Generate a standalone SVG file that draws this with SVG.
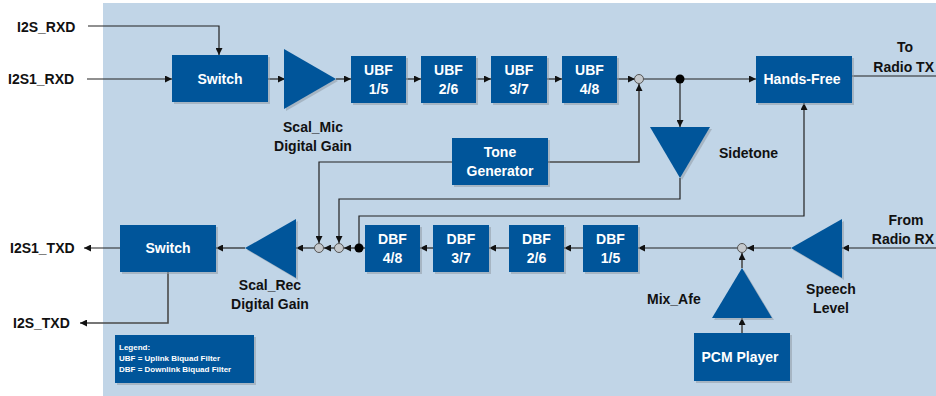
<svg xmlns="http://www.w3.org/2000/svg" width="936" height="396" viewBox="0 0 936 396">
<defs>
<style>
.bg{fill:#c1d5e7}
.box{fill:#00559a}
.sh{fill:#8f9aa5;opacity:.55}
.bt{font-family:"Liberation Sans",Arial,sans-serif;font-weight:bold;font-size:14px;fill:#fff;text-anchor:middle}
.lb{font-family:"Liberation Sans",Arial,sans-serif;font-weight:bold;font-size:14px;fill:#111}
.lg{font-family:"Liberation Sans",Arial,sans-serif;font-weight:bold;font-size:8px;fill:#fff}
.c{fill:none;stroke:#222;stroke-width:1.2}
.g{fill:none;stroke:#4a4a4a;stroke-width:1.6}
.sum{fill:#c4c8cc;stroke:#555;stroke-width:1}
.dot{fill:#000}
</style>
<marker id="a" viewBox="0 0 8 8" refX="8" refY="4" markerWidth="7" markerHeight="7" markerUnits="userSpaceOnUse" orient="auto">
<path d="M0,0 L8,4 L0,8 z" fill="#111"/>
</marker>
</defs>
<rect class="bg" x="103" y="3" width="833" height="393"/>

<g id="connectors">
<path class="c" d="M88,26 H219 V55" marker-end="url(#a)"/>
<path class="c" d="M87,79 H172" marker-end="url(#a)"/>
<path class="c" d="M268,79 H285" marker-end="url(#a)"/>
<path class="c" d="M336,79 H351" marker-end="url(#a)"/>
<path class="c" d="M406,79 H421" marker-end="url(#a)"/>
<path class="c" d="M476,79 H491" marker-end="url(#a)"/>
<path class="c" d="M547,79 H562" marker-end="url(#a)"/>
<path class="c" d="M617,79 H635" marker-end="url(#a)"/>
<path class="c" d="M643,79 H756" marker-end="url(#a)"/>
<path class="c" d="M680,79 V127" marker-end="url(#a)"/>
<path class="c" d="M852,76 H936"/>
<path class="c" d="M680,178 V199 H339 V243" marker-end="url(#a)"/>
<path class="g" d="M548,162 H639 V84" marker-end="url(#a)"/>
<path class="c" d="M452,162 H319 V243" marker-end="url(#a)"/>
<path class="c" d="M359,248 V216 H804 V103" marker-end="url(#a)"/>
<path class="c" d="M936,248 H842" marker-end="url(#a)"/>
<path class="c" d="M791,248 H747" marker-end="url(#a)"/>
<path class="c" d="M738,248 H638" marker-end="url(#a)"/>
<path class="c" d="M583,248 H564" marker-end="url(#a)"/>
<path class="c" d="M509,248 H489" marker-end="url(#a)"/>
<path class="c" d="M433,248 H420" marker-end="url(#a)"/>
<path class="c" d="M365,248 H359"/>
<path class="c" d="M355,248 H344" marker-end="url(#a)"/>
<path class="c" d="M335,248 H324" marker-end="url(#a)"/>
<path class="c" d="M315,248 H296" marker-end="url(#a)"/>
<path class="c" d="M245,248 H216" marker-end="url(#a)"/>
<path class="c" d="M120,248 H84" marker-end="url(#a)"/>
<path class="g" d="M168,272 V323 H80" marker-end="url(#a)"/>
<path class="g" d="M742,268 V253" marker-end="url(#a)"/>
<path class="g" d="M742,333 V318" marker-end="url(#a)"/>
</g>

<g id="sum_ul"><circle class="sum" cx="639" cy="79" r="4.5"/></g>
<g id="dot_ul"><circle class="dot" cx="680" cy="79" r="4.5"/></g>
<g id="sum_dl1"><circle class="sum" cx="319" cy="248" r="4.5"/></g>
<g id="sum_dl2"><circle class="sum" cx="339" cy="248" r="4.5"/></g>
<g id="dot_dl"><circle class="dot" cx="359" cy="248" r="4.5"/></g>
<g id="sum_dl3"><circle class="sum" cx="742" cy="248" r="4.5"/></g>

<g id="switch_top">
<rect class="sh" x="174" y="57" width="96" height="47"/>
<rect class="box" x="172" y="55" width="96" height="47"/>
<text class="bt" x="220" y="84">Switch</text>
</g>
<g id="scal_mic">
<polygon class="sh" points="286,51 338,81 286,111"/>
<polygon class="box" points="284,49 336,79 284,109"/>
<text class="lb" x="313" y="132" text-anchor="middle">Scal_Mic</text>
<text class="lb" x="313" y="151" text-anchor="middle">Digital Gain</text>
</g>
<g id="ubf1">
<rect class="sh" x="353" y="58" width="55" height="47"/>
<rect class="box" x="351" y="56" width="55" height="47"/>
<text class="bt" x="378.5" y="75">UBF</text><text class="bt" x="378.5" y="94">1/5</text>
</g>
<g id="ubf2">
<rect class="sh" x="423" y="58" width="55" height="47"/>
<rect class="box" x="421" y="56" width="55" height="47"/>
<text class="bt" x="448.5" y="75">UBF</text><text class="bt" x="448.5" y="94">2/6</text>
</g>
<g id="ubf3">
<rect class="sh" x="493" y="58" width="56" height="47"/>
<rect class="box" x="491" y="56" width="56" height="47"/>
<text class="bt" x="519" y="75">UBF</text><text class="bt" x="519" y="94">3/7</text>
</g>
<g id="ubf4">
<rect class="sh" x="564" y="58" width="55" height="47"/>
<rect class="box" x="562" y="56" width="55" height="47"/>
<text class="bt" x="589.5" y="75">UBF</text><text class="bt" x="589.5" y="94">4/8</text>
</g>
<g id="hands_free">
<rect class="sh" x="758" y="58" width="96" height="47"/>
<rect class="box" x="756" y="56" width="96" height="47"/>
<text class="bt" x="802" y="84">Hands-Free</text>
</g>
<g id="to_radio_tx">
<text class="lb" x="905" y="52" text-anchor="middle">To</text>
<text class="lb" x="934" y="72" text-anchor="end">Radio TX</text>
</g>
<g id="tone_gen">
<rect class="sh" x="454" y="140" width="96" height="47"/>
<rect class="box" x="452" y="138" width="96" height="47"/>
<text class="bt" x="500" y="157">Tone</text>
<text class="bt" x="500" y="176">Generator</text>
</g>
<g id="sidetone">
<polygon class="sh" points="652,129 712,129 682,180"/>
<polygon class="box" points="650,127 710,127 680,178"/>
<text class="lb" x="719" y="158">Sidetone</text>
</g>
<g id="switch_bottom">
<rect class="sh" x="122" y="227" width="96" height="47"/>
<rect class="box" x="120" y="225" width="96" height="47"/>
<text class="bt" x="168" y="253">Switch</text>
</g>
<g id="scal_rec">
<polygon class="sh" points="298,221 247,250 298,280"/>
<polygon class="box" points="296,219 245,248 296,278"/>
<text class="lb" x="270" y="290" text-anchor="middle">Scal_Rec</text>
<text class="lb" x="270" y="309" text-anchor="middle">Digital Gain</text>
</g>
<g id="dbf4">
<rect class="sh" x="367" y="227" width="55" height="47"/>
<rect class="box" x="365" y="225" width="55" height="47"/>
<text class="bt" x="392.5" y="244">DBF</text><text class="bt" x="392.5" y="263">4/8</text>
</g>
<g id="dbf3">
<rect class="sh" x="435" y="227" width="56" height="47"/>
<rect class="box" x="433" y="225" width="56" height="47"/>
<text class="bt" x="461" y="244">DBF</text><text class="bt" x="461" y="263">3/7</text>
</g>
<g id="dbf2">
<rect class="sh" x="511" y="227" width="55" height="47"/>
<rect class="box" x="509" y="225" width="55" height="47"/>
<text class="bt" x="536.5" y="244">DBF</text><text class="bt" x="536.5" y="263">2/6</text>
</g>
<g id="dbf1">
<rect class="sh" x="585" y="227" width="55" height="47"/>
<rect class="box" x="583" y="225" width="55" height="47"/>
<text class="bt" x="610.5" y="244">DBF</text><text class="bt" x="610.5" y="263">1/5</text>
</g>
<g id="speech_level">
<polygon class="sh" points="844,221 793,250 844,280"/>
<polygon class="box" points="842,219 791,248 842,278"/>
<text class="lb" x="831" y="294" text-anchor="middle">Speech</text>
<text class="lb" x="831" y="313" text-anchor="middle">Level</text>
</g>
<g id="from_radio_rx">
<text class="lb" x="906" y="225" text-anchor="middle">From</text>
<text class="lb" x="934" y="244" text-anchor="end">Radio RX</text>
</g>
<g id="mix_afe">
<polygon class="sh" points="744,270 774,320 714,320"/>
<polygon class="box" points="742,268 772,318 712,318"/>
<text class="lb" x="647" y="304">Mix_Afe</text>
</g>
<g id="pcm_player">
<rect class="sh" x="696" y="335" width="96" height="48"/>
<rect class="box" x="694" y="333" width="96" height="48"/>
<text class="bt" x="740" y="362">PCM Player</text>
</g>
<g id="io_labels">
<text class="lb" x="17" y="32">I2S_RXD</text>
<text class="lb" x="8" y="84">I2S1_RXD</text>
<text class="lb" x="10" y="253">I2S1_TXD</text>
<text class="lb" x="13" y="328">I2S_TXD</text>
</g>
<g id="legend">
<rect class="sh" x="117" y="337" width="139" height="48"/>
<rect class="box" x="115" y="335" width="139" height="48"/>
<text class="lg" x="119" y="350">Legend:</text>
<text class="lg" x="119" y="361">UBF = Uplink Biquad Filter</text>
<text class="lg" x="119" y="372">DBF = Downlink Biquad Filter</text>
</g>
</svg>
